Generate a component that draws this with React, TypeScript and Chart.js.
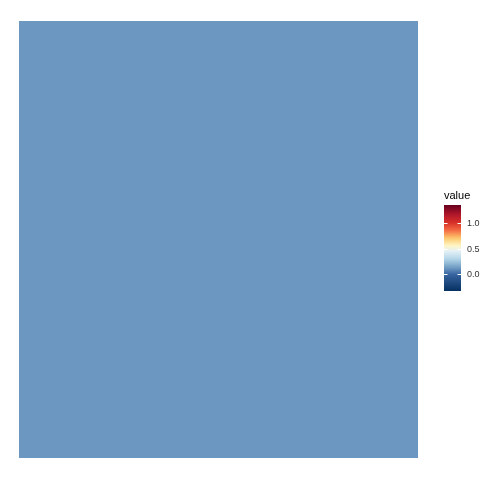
import React, { useEffect, useRef } from "react";
import { Chart, registerables } from "chart.js";

Chart.register(...registerables);

// Heatmap data: a single tile
const xCategories = ["1"];
const tileValues = [0.12];

// Colour legend
const legendTitle = "value";
const legendTicks = [0.0, 0.5, 1.0];
const legendTickLabels = ["0.0", "0.5", "1.0"];
const legendMin = -0.32;
const legendMax = 1.34;

// Colour palette stops (value, rgb)
const paletteValues = [-0.32, 0.0, 0.12, 0.3, 0.45, 0.55, 0.7, 0.85, 1.0, 1.15, 1.34];
const paletteColors: number[][] = [
  [5, 48, 97],
  [55, 100, 160],
  [107, 151, 193],
  [180, 214, 232],
  [228, 240, 245],
  [254, 246, 200],
  [253, 200, 110],
  [244, 109, 67],
  [215, 48, 39],
  [178, 24, 43],
  [103, 0, 31],
];

function colorFor(v: number): string {
  if (v <= paletteValues[0]) return `rgb(${paletteColors[0].join(",")})`;
  for (let i = 1; i < paletteValues.length; i++) {
    if (v <= paletteValues[i]) {
      const t = (v - paletteValues[i - 1]) / (paletteValues[i] - paletteValues[i - 1]);
      const a = paletteColors[i - 1];
      const b = paletteColors[i];
      const c = a.map((x, k) => Math.round(x + (b[k] - x) * t));
      return `rgb(${c.join(",")})`;
    }
  }
  return `rgb(${paletteColors[paletteColors.length - 1].join(",")})`;
}

const colorbarPlugin = {
  id: "colorbar",
  afterDraw(chart: any) {
    const ctx = chart.ctx as CanvasRenderingContext2D;
    const x0 = 444;
    const w = 17;
    const top = 205;
    const bottom = 291;
    const h = bottom - top;
    const yOf = (v: number) => bottom - ((v - legendMin) / (legendMax - legendMin)) * h;
    ctx.save();
    for (let py = 0; py < h; py++) {
      const v = legendMin + ((h - py - 0.5) / h) * (legendMax - legendMin);
      ctx.fillStyle = colorFor(v);
      ctx.fillRect(x0, top + py, w, 1);
    }
    ctx.strokeStyle = "#ffffff";
    ctx.lineWidth = 1;
    ctx.fillStyle = "#333333";
    ctx.font = "9px 'Liberation Sans', Arial, sans-serif";
    ctx.textBaseline = "middle";
    ctx.textAlign = "left";
    legendTicks.forEach((t, i) => {
      const y = Math.round(yOf(t)) + 0.5;
      ctx.beginPath();
      ctx.moveTo(x0, y);
      ctx.lineTo(x0 + 3.5, y);
      ctx.moveTo(x0 + w - 3.5, y);
      ctx.lineTo(x0 + w, y);
      ctx.stroke();
      ctx.fillText(legendTickLabels[i], x0 + w + 6, y);
    });
    ctx.fillStyle = "#000000";
    ctx.font = "11px 'Liberation Sans', Arial, sans-serif";
    ctx.textBaseline = "alphabetic";
    ctx.fillText(legendTitle, x0, 199);
    ctx.restore();
  },
};

export default function App() {
  const ref = useRef<HTMLCanvasElement | null>(null);
  useEffect(() => {
    document.body.style.margin = "0";
    if (!ref.current) return;
    const chart = new Chart(ref.current, {
      type: "bar",
      data: {
        labels: xCategories,
        datasets: [
          {
            data: tileValues.map(() => [0, 1]) as any,
            backgroundColor: tileValues.map((v) => colorFor(v)),
            borderWidth: 0,
            barPercentage: 1,
            categoryPercentage: 1,
          },
        ],
      },
      options: {
        animation: false,
        responsive: false,
        maintainAspectRatio: false,
        layout: { padding: { left: 19, top: 21, right: 62, bottom: 22 } },
        plugins: { legend: { display: false }, tooltip: { enabled: false } },
        scales: {
          x: { display: false, offset: true, grid: { display: false } },
          y: { display: false, min: 0, max: 1, grid: { display: false } },
        },
      },
      plugins: [colorbarPlugin],
    });
    return () => chart.destroy();
  }, []);
  return (
    <div style={{ width: 480, height: 480, background: "#ffffff" }}>
      <canvas ref={ref} width={480} height={480} style={{ display: "block" }} />
    </div>
  );
}
